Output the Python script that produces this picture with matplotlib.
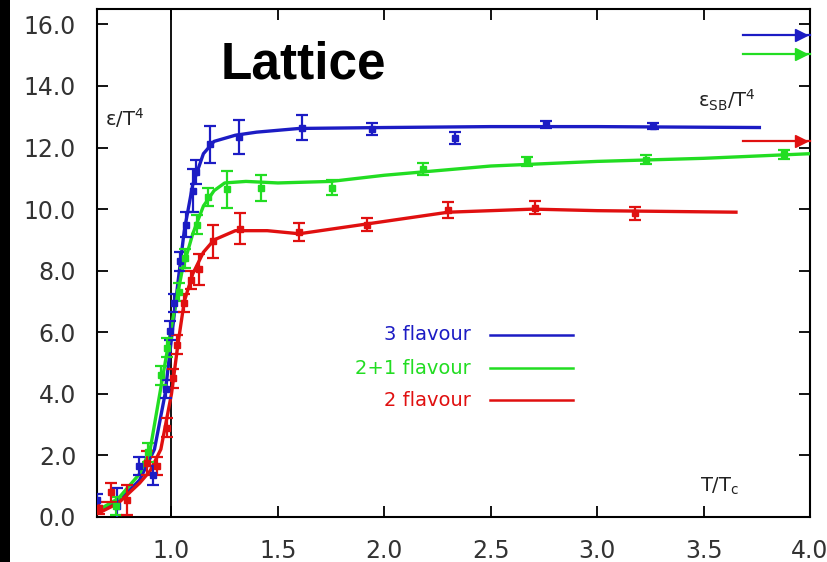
import matplotlib.pyplot as plt
from matplotlib.patches import Rectangle

# lattice energy density, eps/T^4 vs T/Tc

BLUE = "#1c1cc4"
GREEN = "#22dd22"
RED = "#e01010"

# 3 flavour
t_3f = [0.65, 0.745, 0.845, 0.915, 0.972, 0.995, 1.01, 1.042, 1.066, 1.1,
        1.113, 1.183, 1.315, 1.615, 1.94, 2.33, 2.76, 3.26]
e_3f = [0.55, 0.35, 1.65, 1.35, 4.15, 6.05, 6.95, 8.3, 9.5, 10.6,
        11.2, 12.1, 12.35, 12.65, 12.6, 12.3, 12.75, 12.7]
err_3f = [0.2, 0.6, 0.3, 0.3, 0.3, 0.3, 0.3, 0.3, 0.4, 0.7,
          0.4, 0.6, 0.55, 0.4, 0.2, 0.2, 0.12, 0.1]

# 2+1 flavour
t_21f = [0.74, 0.89, 0.95, 0.98, 1.035, 1.065, 1.12, 1.17, 1.26, 1.42,
         1.755, 2.18, 2.67, 3.23, 3.88]
e_21f = [0.35, 2.1, 4.6, 5.5, 7.3, 8.4, 9.5, 10.4, 10.65, 10.7,
         10.7, 11.3, 11.55, 11.6, 11.78]
err_21f = [0.3, 0.3, 0.3, 0.3, 0.3, 0.3, 0.3, 0.3, 0.6, 0.42,
           0.25, 0.2, 0.15, 0.15, 0.15]

# 2 flavour
t_2f = [0.66, 0.714, 0.79, 0.887, 0.934, 0.98, 1.005, 1.028, 1.057, 1.09,
        1.127, 1.197, 1.32, 1.6, 1.92, 2.3, 2.71, 3.18]
e_2f = [0.3, 0.8, 0.55, 1.75, 1.65, 2.9, 4.5, 5.6, 6.95, 7.7,
        8.05, 8.95, 9.37, 9.25, 9.5, 9.97, 10.05, 9.86]
err_2f = [0.2, 0.3, 0.5, 0.4, 0.3, 0.3, 0.3, 0.3, 0.3, 0.3,
          0.5, 0.55, 0.5, 0.3, 0.2, 0.25, 0.2, 0.2]

# interpolating curves through the data
curve_t_3f = [0.65, 0.75, 0.85, 0.92, 0.97, 1.0, 1.03, 1.06, 1.1, 1.15,
              1.2, 1.3, 1.4, 1.6, 2.0, 2.5, 3.0, 3.5, 3.77]
curve_e_3f = [0.15, 0.5, 1.2, 2.2, 4.0, 5.8, 7.6, 9.3, 10.8, 11.8,
              12.2, 12.4, 12.5, 12.62, 12.65, 12.68, 12.68, 12.66, 12.65]

curve_t_21f = [0.65, 0.75, 0.85, 0.9, 0.95, 1.0, 1.05, 1.1, 1.15, 1.2,
               1.25, 1.35, 1.5, 1.75, 2.0, 2.5, 3.0, 3.5, 4.0]
curve_e_21f = [0.2, 0.6, 1.4, 2.2, 4.2, 6.2, 8.0, 9.2, 10.1, 10.6,
               10.85, 10.9, 10.85, 10.9, 11.1, 11.4, 11.55, 11.65, 11.8]

curve_t_2f = [0.65, 0.75, 0.85, 0.9, 0.95, 1.0, 1.03, 1.06, 1.1, 1.15,
              1.2, 1.3, 1.45, 1.6, 1.8, 2.0, 2.3, 2.7, 3.0, 3.66]
curve_e_2f = [0.1, 0.45, 1.1, 1.5, 2.2, 4.0, 5.6, 7.0, 7.9, 8.6,
              9.0, 9.3, 9.3, 9.2, 9.4, 9.6, 9.9, 10.0, 9.95, 9.9]

# Stefan-Boltzmann limits
sb_limits = [15.67, 15.03, 12.2]

plt.rcParams["font.family"] = ["DejaVu Sans"]
plt.rcParams["mathtext.default"] = "regular"

fig = plt.figure(figsize=(8.27, 5.62), dpi=100)
fig.patch.set_facecolor("white")
fig.patches.append(Rectangle((0, 0), 10 / 827, 1, transform=fig.transFigure,
                             facecolor="black", edgecolor="none", zorder=0))

ax = fig.add_axes([97 / 827, 45 / 562, 713 / 827, 508 / 562])

series = [
    (t_3f, e_3f, err_3f, curve_t_3f, curve_e_3f, BLUE),
    (t_21f, e_21f, err_21f, curve_t_21f, curve_e_21f, GREEN),
    (t_2f, e_2f, err_2f, curve_t_2f, curve_e_2f, RED),
]

for t, e, err, ct, ce, col in series:
    ax.plot(ct, ce, color=col, lw=2.4, solid_capstyle="butt", zorder=3)
    ax.errorbar(t, e, yerr=err, fmt="s", color=col, ms=4.5, elinewidth=1.6,
                capsize=4, capthick=1.6, zorder=4)

# SB arrows at the right edge
for val, col in zip(sb_limits, [BLUE, GREEN, RED]):
    ax.plot([3.685, 4.0], [val, val], color=col, lw=1.6, clip_on=False, zorder=4)
    ax.plot([3.96], [val], marker=">", color=col, ms=9, clip_on=False, zorder=4)

ax.axvline(1.0, color="black", lw=1.3, zorder=2)

ax.set_xlim(0.65, 4.0)
ax.set_ylim(0, 16.5)
ax.set_xticks([1.0, 1.5, 2.0, 2.5, 3.0, 3.5, 4.0])
ax.set_xticklabels(["1.0", "1.5", "2.0", "2.5", "3.0", "3.5", "4.0"])
ax.set_yticks([0, 2, 4, 6, 8, 10, 12, 14, 16])
ax.set_yticklabels(["0.0", "2.0", "4.0", "6.0", "8.0", "10.0", "12.0", "14.0", "16.0"])

ax.tick_params(direction="in", length=8, width=1.3, top=True, right=True,
               labelsize=17, labelcolor="#333333")
ax.tick_params(axis="x", pad=16)
ax.tick_params(axis="y", pad=15)
for s in ax.spines.values():
    s.set_linewidth(1.5)

ax.text(303 / 827, 1 - 65 / 562, "Lattice", transform=fig.transFigure,
        fontsize=37, fontweight="bold", family="Liberation Sans",
        ha="center", va="center")
ax.text(105 / 827, 1 - 118 / 562, "ε/T$^4$", transform=fig.transFigure,
        fontsize=14, color="#222222", ha="left", va="center")
ax.text(698 / 827, 1 - 100 / 562, "ε$_{SB}$/T$^4$", transform=fig.transFigure,
        fontsize=14, color="#222222", ha="left", va="center")
ax.text(700 / 827, 1 - 486 / 562, "T/T$_c$", transform=fig.transFigure,
        fontsize=14, color="#222222", ha="left", va="center")

# legend drawn by hand, labels right aligned before their line samples
labels = ["3 flavour", "2+1 flavour", "2 flavour"]
legend_y = [335, 368, 400]
for lab, ly, col in zip(labels, legend_y, [BLUE, GREEN, RED]):
    fy = 1 - ly / 562
    fig.text(471 / 827, fy, lab, color=col, fontsize=14, ha="right", va="center")
    fig.add_artist(plt.Line2D([490 / 827, 573 / 827], [fy, fy], color=col, lw=1.8))

fig.savefig("out.png", dpi=100)
